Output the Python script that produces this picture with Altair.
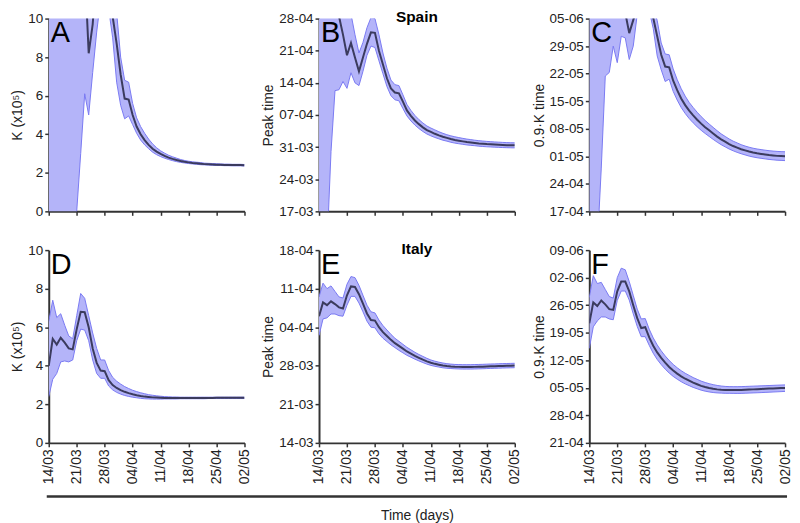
import altair as alt
import pandas as pd

days = list(range(50))
x_ticks = [0, 7, 14, 21, 28, 35, 42, 49]

# Spain: K (x10^5)
spain_k_mid = [14, 16, 18, 20, 19, 17, 15, 13, 12, 12.7, 8.2, 9.7, 12.5, 15, 16, 13, 10.1, 8.7, 7.1, 5.85,
               5.8, 5.0, 4.4, 4.0, 3.7, 3.45, 3.25, 3.1, 2.98, 2.88, 2.79, 2.72, 2.66, 2.61, 2.57, 2.54, 2.51, 2.49,
               2.47, 2.45, 2.44, 2.43, 2.42, 2.42, 2.41, 2.41, 2.40, 2.40, 2.40, 2.39]
spain_k_lo = [-1, -1, -1, -1, -1, -1, -1, 0, 3.0, 6.1, 5.0, 7.2, 9.3, 11, 12, 10.5, 9.0, 6.7, 5.5, 4.8,
              4.95, 4.5, 4.05, 3.7, 3.45, 3.25, 3.07, 2.94, 2.84, 2.76, 2.69, 2.63, 2.58, 2.54, 2.51, 2.48, 2.46,
              2.44, 2.42, 2.41, 2.40, 2.39, 2.38, 2.38, 2.37, 2.37, 2.36, 2.36, 2.36, 2.35]
spain_k_hi = [20, 20, 20, 20, 20, 20, 20, 20, 20, 20, 20, 20, 20, 20, 20, 20, 11.5, 10.3, 8.0, 6.8,
              6.7, 5.6, 4.85, 4.4, 4.05, 3.75, 3.5, 3.3, 3.14, 3.02, 2.91, 2.83, 2.76, 2.69, 2.64, 2.60, 2.57,
              2.55, 2.53, 2.50, 2.49, 2.48, 2.47, 2.46, 2.45, 2.45, 2.44, 2.44, 2.44, 2.43]

# Spain: peak time (days after 14-03)
spain_peak_mid = [50, 50, 50, 50, 48, 45.5, 41.5, 37.0, 39.7, 36.5, 33.5, 36.5, 39.5, 42.0, 41.9, 38.0, 35.0,
                  32.0, 29.8, 28.9, 28.7, 26.9, 25.0, 23.8, 22.8, 22.0, 21.3, 20.7, 20.3, 19.9, 19.55, 19.25,
                  19.0, 18.75, 18.55, 18.4, 18.25, 18.1, 18.0, 17.9, 17.8, 17.72, 17.65, 17.6, 17.55, 17.5,
                  17.46, 17.42, 17.4, 17.38]
spain_peak_lo = [-5, -5, -5, 16, 29.3, 29.5, 31.3, 29.8, 33.2, 31.0, 30.4, 33.5, 37.0, 39.0, 38.7, 35.8, 33.0,
                 30.2, 28.2, 27.3, 27.1, 25.4, 23.8, 22.7, 21.8, 21.05, 20.4, 19.85, 19.45, 19.1, 18.8, 18.5,
                 18.3, 18.05, 17.87, 17.73, 17.6, 17.47, 17.38, 17.3, 17.2, 17.13, 17.07, 17.03, 16.98, 16.94,
                 16.9, 16.87, 16.85, 16.83]
spain_peak_hi = [55, 55, 55, 55, 55, 55, 55, 55, 46, 41.5, 37.5, 39.8, 43, 45.2, 45, 41.5, 37.5, 34.2, 31.6,
                 30.6, 30.4, 28.4, 26.3, 25.0, 23.9, 23.0, 22.25, 21.6, 21.15, 20.75, 20.35, 20.0, 19.7, 19.45,
                 19.25, 19.07, 18.9, 18.75, 18.63, 18.5, 18.4, 18.32, 18.24, 18.18, 18.12, 18.07, 18.02, 17.98,
                 17.95, 17.93]

# Spain: 0.9*K time (days after 14-03)
spain_k90_mid = [95, 95, 95, 95, 95, 95, 95, 92, 88, 84.5, 79.3, 82.6, 86, 90, 92, 88, 83.2, 78.5, 73.8, 70.8,
                 70.6, 67.2, 64.8, 62.7, 61.0, 59.6, 58.4, 57.3, 56.3, 55.4, 54.6, 53.8, 53.0, 52.3, 51.7, 51.1,
                 50.6, 50.2, 49.8, 49.5, 49.2, 48.95, 48.75, 48.6, 48.45, 48.3, 48.2, 48.1, 48.05, 48.0]
spain_k90_lo = [20, 20, 25, 45, 68.4, 69.3, 76.0, 71.8, 78.5, 78.1, 72.6, 76.0, 84, 88, 89, 85, 80.5, 73.5, 70.0,
                67.0, 67.6, 64.5, 62.3, 60.4, 58.9, 57.6, 56.5, 55.5, 54.6, 53.8, 53.05, 52.3, 51.6, 50.95, 50.4,
                49.85, 49.4, 49.0, 48.65, 48.35, 48.05, 47.82, 47.63, 47.48, 47.34, 47.2, 47.1, 47.0, 46.95, 46.9]
spain_k90_hi = [100, 100, 100, 100, 100, 100, 100, 100, 100, 100, 100, 100, 100, 100, 100, 100, 86, 82.5, 76.8,
                74.0, 73.8, 70.2, 67.5, 65.2, 63.3, 61.7, 60.4, 59.2, 58.1, 57.1, 56.2, 55.35, 54.5, 53.7, 53.05,
                52.4, 51.85, 51.4, 50.95, 50.6, 50.3, 50.05, 49.85, 49.7, 49.55, 49.42, 49.32, 49.24, 49.18, 49.15]

# Italy: K (x10^5)
italy_k_mid = [4.0, 5.4, 5.1, 5.45, 5.2, 4.9, 4.85, 5.9, 6.8, 6.78, 6.0, 4.9, 4.15, 3.75, 3.72, 3.25, 3.0, 2.85,
               2.74, 2.65, 2.58, 2.52, 2.47, 2.43, 2.4, 2.38, 2.36, 2.35, 2.34, 2.33, 2.33, 2.33, 2.33, 2.33,
               2.33, 2.33, 2.33, 2.33, 2.33, 2.33, 2.33, 2.33, 2.34, 2.34, 2.34, 2.34, 2.34, 2.34, 2.34, 2.34]
italy_k_lo = [2.4, 3.3, 3.6, 4.2, 4.25, 4.2, 4.3, 5.3, 5.9, 5.85, 5.3, 4.3, 3.6, 3.35, 3.35, 2.95, 2.75, 2.62,
              2.53, 2.46, 2.41, 2.37, 2.34, 2.31, 2.29, 2.28, 2.27, 2.27, 2.27, 2.28, 2.28, 2.28, 2.28, 2.29,
              2.29, 2.29, 2.29, 2.29, 2.29, 2.29, 2.3, 2.3, 2.3, 2.3, 2.3, 2.3, 2.3, 2.3, 2.3, 2.3]
italy_k_hi = [6.3, 7.4, 6.5, 6.7, 6.1, 5.55, 5.4, 6.6, 7.75, 7.5, 6.6, 5.7, 4.9, 4.3, 4.3, 3.75, 3.4, 3.2,
              3.05, 2.92, 2.82, 2.73, 2.66, 2.6, 2.55, 2.5, 2.47, 2.44, 2.42, 2.40, 2.39, 2.38, 2.38, 2.37,
              2.37, 2.37, 2.37, 2.37, 2.37, 2.37, 2.37, 2.37, 2.37, 2.37, 2.37, 2.37, 2.37, 2.37, 2.37, 2.37]

# Italy: peak time (days after 14-03)
italy_peak_mid = [23.0, 25.5, 25.0, 25.7, 25.2, 24.6, 24.4, 26.8, 28.4, 28.3, 27.0, 25.3, 23.5, 22.3, 22.2, 21.0,
                  20.1, 19.4, 18.7, 18.1, 17.6, 17.1, 16.6, 16.2, 15.8, 15.45, 15.1, 14.8, 14.55, 14.35, 14.2,
                  14.05, 13.95, 13.88, 13.83, 13.8, 13.78, 13.78, 13.78, 13.8, 13.82, 13.84, 13.87, 13.9, 13.92,
                  13.95, 13.97, 13.99, 14.01, 14.03]
italy_peak_lo = [19.5, 22.5, 22.7, 23.4, 23.4, 23.1, 23.0, 25.0, 26.6, 26.6, 25.4, 23.8, 22.1, 21.0, 20.9, 19.8,
                 19.0, 18.4, 17.8, 17.3, 16.8, 16.35, 15.9, 15.55, 15.2, 14.88, 14.58, 14.3, 14.07, 13.9, 13.77,
                 13.63, 13.55, 13.5, 13.45, 13.42, 13.4, 13.4, 13.4, 13.42, 13.44, 13.46, 13.49, 13.52, 13.54,
                 13.57, 13.59, 13.61, 13.63, 13.65]
italy_peak_hi = [26.5, 29.0, 28.0, 28.5, 27.5, 26.5, 26.3, 28.8, 30.2, 30.0, 28.6, 26.8, 25.0, 23.8, 23.6, 22.3,
                 21.3, 20.5, 19.7, 19.0, 18.45, 17.9, 17.35, 16.9, 16.45, 16.05, 15.7, 15.35, 15.05, 14.83,
                 14.65, 14.5, 14.38, 14.3, 14.24, 14.22, 14.2, 14.2, 14.2, 14.22, 14.24, 14.26, 14.29, 14.32,
                 14.34, 14.37, 14.39, 14.41, 14.43, 14.45]

# Italy: 0.9*K time (days after 14-03)
italy_k90_mid = [68.4, 73.7, 72.8, 74.2, 73.2, 72.0, 71.8, 76.5, 79.0, 79.0, 76.5, 73.0, 69.7, 67.2, 67.4, 64.8,
                 62.7, 61.0, 59.6, 58.4, 57.3, 56.4, 55.6, 54.9, 54.3, 53.8, 53.3, 52.9, 52.5, 52.2, 51.95,
                 51.75, 51.6, 51.5, 51.45, 51.42, 51.42, 51.43, 51.45, 51.5, 51.55, 51.6, 51.65, 51.7, 51.75,
                 51.8, 51.84, 51.88, 51.92, 51.95]
italy_k90_lo = [62.0, 67.5, 69.0, 70.0, 70.0, 69.5, 69.3, 74.2, 76.6, 76.6, 74.3, 70.8, 67.6, 65.0, 65.0, 62.8,
                60.8, 59.2, 57.9, 56.75, 55.75, 54.9, 54.2, 53.55, 53.0, 52.55, 52.1, 51.75, 51.4, 51.15, 50.95,
                50.8, 50.7, 50.65, 50.6, 50.6, 50.58, 50.57, 50.58, 50.62, 50.66, 50.7, 50.74, 50.78, 50.83,
                50.88, 50.93, 50.98, 51.03, 51.08]
italy_k90_hi = [75.0, 80.5, 78.5, 78.8, 77.0, 75.2, 74.8, 80.0, 82.4, 82.0, 79.0, 75.5, 72.0, 69.5, 69.6, 66.9,
                64.7, 62.9, 61.4, 60.1, 58.95, 57.95, 57.1, 56.35, 55.7, 55.15, 54.6, 54.15, 53.7, 53.35, 53.05,
                52.8, 52.6, 52.45, 52.35, 52.3, 52.29, 52.29, 52.3, 52.34, 52.38, 52.42, 52.46, 52.5, 52.54,
                52.58, 52.62, 52.66, 52.7, 52.74]

FONT = "Liberation Sans"
FILL = "#b4b4f9"
EDGE = "#7a7af2"
LINE = "#3b3b5e"
AX = "#333333"


def panel(lo, mid, hi, ydom, yticks, ytitle, ylabel_expr, letter, bottom, title=None, xtitle=None, rule=False):
    df = pd.DataFrame({"day": days, "lo": lo, "mid": mid, "hi": hi})
    xaxis = alt.Axis(values=x_ticks, labels=bottom, labelAngle=-90, title=xtitle, labelFontSize=14,
                     labelExpr="timeFormat(datetime(2020, 2, 14 + datum.value), '%d/%m')",
                     titlePadding=25, titleFontSize=14)
    xs = alt.Scale(domain=[0, 49], nice=False, zero=False)
    ys = alt.Scale(domain=ydom, nice=False, zero=False)
    yaxis = alt.Axis(values=yticks, title=ytitle, labelExpr=ylabel_expr, titlePadding=3, labelFontSize=13.5)
    X = alt.X("day:Q", scale=xs, axis=xaxis)
    base = alt.Chart(df)
    area = base.mark_area(color=FILL, opacity=1, clip=True).encode(
        x=X, y=alt.Y("lo:Q", scale=ys, axis=yaxis), y2="hi:Q")
    lo_l = base.mark_line(color=EDGE, strokeWidth=1, clip=True).encode(
        x=X, y=alt.Y("lo:Q", scale=ys, axis=yaxis))
    hi_l = base.mark_line(color=EDGE, strokeWidth=1, clip=True).encode(
        x=X, y=alt.Y("hi:Q", scale=ys, axis=yaxis))
    mid_l = base.mark_line(color=LINE, strokeWidth=2, clip=True).encode(
        x=X, y=alt.Y("mid:Q", scale=ys, axis=yaxis))
    txt = alt.Chart(pd.DataFrame({"t": [letter]})).mark_text(
        align="left", baseline="top", fontSize=29, font=FONT, color="black").encode(
        x=alt.value(2), y=alt.value(1), text="t:N")
    layers = [area, lo_l, hi_l, mid_l, txt]
    if rule:
        layers.append(alt.Chart(pd.DataFrame({"t": [0]})).mark_rule(color=AX, strokeWidth=2.5).encode(
            x=alt.value(-274), x2=alt.value(471), y=alt.value(248)))
    ch = alt.layer(*layers).properties(width=197, height=194)
    if title:
        ch = ch.properties(title=alt.TitleParams(title, fontSize=15.5, fontWeight="bold", font=FONT,
                                                 anchor="middle", frame="group", offset=-14, color="black"))
    return ch


num_expr = "format(datum.value, 'd')"
date_expr = "timeFormat(datetime(2020, 2, 14 + datum.value), '%d-%m')"

A = panel(spain_k_lo, spain_k_mid, spain_k_hi, [0, 10], [0, 2, 4, 6, 8, 10], "K (x10⁵)", num_expr, "A", False)
B = panel(spain_peak_lo, spain_peak_mid, spain_peak_hi, [3, 45], [3, 10, 17, 24, 31, 38, 45], "Peak time",
          date_expr, "B", False, title="Spain")
C = panel(spain_k90_lo, spain_k90_mid, spain_k90_hi, [34, 83], [34, 41, 48, 55, 62, 69, 76, 83], "0.9·K time",
          date_expr, "C", False)
D = panel(italy_k_lo, italy_k_mid, italy_k_hi, [0, 10], [0, 2, 4, 6, 8, 10], "K (x10⁵)", num_expr, "D", True)
E = panel(italy_peak_lo, italy_peak_mid, italy_peak_hi, [0, 35], [0, 7, 14, 21, 28, 35], "Peak time",
          date_expr, "E", True, title="Italy", xtitle="Time (days)", rule=True)
F = panel(italy_k90_lo, italy_k90_mid, italy_k90_hi, [38, 87], [38, 45, 52, 59, 66, 73, 80, 87], "0.9·K time",
          date_expr, "F", True)

chart = alt.concat(A, B, C, D, E, F, columns=3, spacing={"row": 39, "column": 75}, bounds="flush").properties(
    padding={"left": 2, "top": 0, "right": 0, "bottom": 0}
).configure_view(stroke=None).configure_axis(
    grid=False, domainColor=AX, domainWidth=2, tickColor=AX, tickWidth=1.5, tickSize=4,
    labelFont=FONT, labelFontSize=13.5, labelColor="#222222", titleFont=FONT, titleFontSize=14,
    titleFontWeight="normal", titleColor="#222222", labelPadding=2, zindex=1
)

chart.save("out.html", embed_options={"renderer": "svg", "actions": False})
